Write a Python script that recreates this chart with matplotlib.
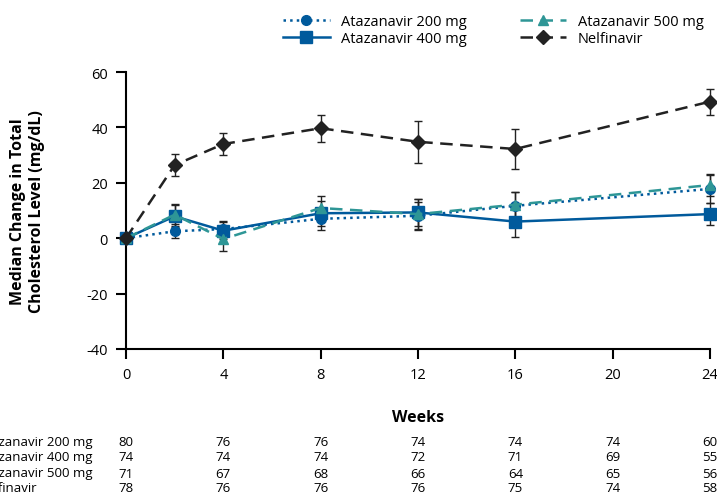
import numpy as np
import matplotlib.pyplot as plt
from matplotlib.lines import Line2D
from matplotlib.transforms import blended_transform_factory

plt.rcParams['font.family'] = ['Open Sans', 'DejaVu Sans']

# Study weeks and median change in total cholesterol (mg/dL)
weeks = [0, 2, 4, 8, 12, 16, 24]

ata200 = [0, 2.5, 3.3, 7.0, 8.1, 11.7, 17.8]
ata400 = [0, 7.9, 2.7, 9.0, 9.3, 6.0, 8.7]
ata500 = [0, 8.5, -0.3, 10.9, 8.7, 12.1, 19.2]
nelf = [0, 26.4, 34.0, 39.7, 34.8, 32.2, 49.3]

err200 = [0, 2.5, 3.0, 4.0, 5.0, 5.0, 5.0]
err400 = [0, 4.0, 3.0, 4.5, 5.0, 5.5, 4.0]
err500 = [0, 4.0, 4.5, 4.5, 5.5, 4.5, 4.0]
errnelf = [0, 4.0, 3.8, 4.8, 7.6, 7.3, 4.7]

# Patients at each time point
table_weeks = [0, 4, 8, 12, 16, 20, 24]
table_labels = ["Atazanavir 200 mg", "Atazanavir 400 mg",
                "Atazanavir 500 mg", "Nelfinavir"]
table_counts = [
    [80, 76, 76, 74, 74, 74, 60],
    [74, 74, 74, 72, 71, 69, 55],
    [71, 67, 68, 66, 64, 65, 56],
    [78, 76, 76, 76, 75, 74, 58],
]

blue = "#005a9c"
teal = "#2e9696"
black = "#222222"
dash = (0, (5, 3))

W, H = 717, 502
fig = plt.figure(figsize=(W / 100, H / 100), dpi=100)
ax = fig.add_axes([126 / W, 1 - 350 / H, (710 - 126) / W, (350 - 73) / H])

series = [
    (ata200, err200, blue, ":", "o", 7, "Atazanavir 200 mg"),
    (ata400, err400, blue, "-", "s", 8, "Atazanavir 400 mg"),
    (ata500, err500, teal, dash, "^", 7, "Atazanavir 500 mg"),
    (nelf, errnelf, black, dash, "D", 7, "Nelfinavir"),
]
handles = []
for vals, err, col, ls, mk, ms, lab in series:
    ax.errorbar(weeks, vals, yerr=err, color=col, ls=ls, lw=1.8,
                marker=mk, ms=ms, ecolor=black, elinewidth=1, capsize=3,
                clip_on=False, zorder=3)
    handles.append(Line2D([], [], color=col, ls=ls, lw=1.8, marker=mk,
                          ms=ms, label=lab))

ax.set_xlim(0, 24)
ax.set_ylim(-40, 60)
ax.set_xticks(range(0, 25, 4))
ax.set_yticks(range(-40, 61, 20))
ax.set_yticklabels([str(v) for v in range(-40, 61, 20)])
for s in ["top", "right"]:
    ax.spines[s].set_visible(False)
for s in ["left", "bottom"]:
    ax.spines[s].set_linewidth(1.5)
ax.tick_params(direction="out", length=7, width=1.5, labelsize=10.5, pad=6)

ax.set_ylabel("Median Change in Total\nCholesterol Level (mg/dL)",
              fontsize=11.5, fontweight="bold", labelpad=30)

fig.text(418 / W, 1 - 418 / H, "Weeks", ha="center", va="center",
         fontsize=11.5, fontweight="bold")

fig.legend(handles=handles, loc="upper left",
           bbox_to_anchor=(270 / W, 1 - 2 / H), ncol=2, frameon=False,
           fontsize=10.5, handlelength=3.2, columnspacing=3.6,
           labelspacing=0.15)

tr = blended_transform_factory(ax.transData, fig.transFigure)
row_y = [443, 458, 474, 489]
for label, counts, y in zip(table_labels, table_counts, row_y):
    fig.text(-22 / W, 1 - y / H, label, ha="left", va="center", fontsize=9.5)
    for wk, n in zip(table_weeks, counts):
        ax.text(wk, 1 - y / H, str(n), transform=tr, ha="center",
                va="center", fontsize=9.5)

fig.savefig("out.png", dpi=100)
